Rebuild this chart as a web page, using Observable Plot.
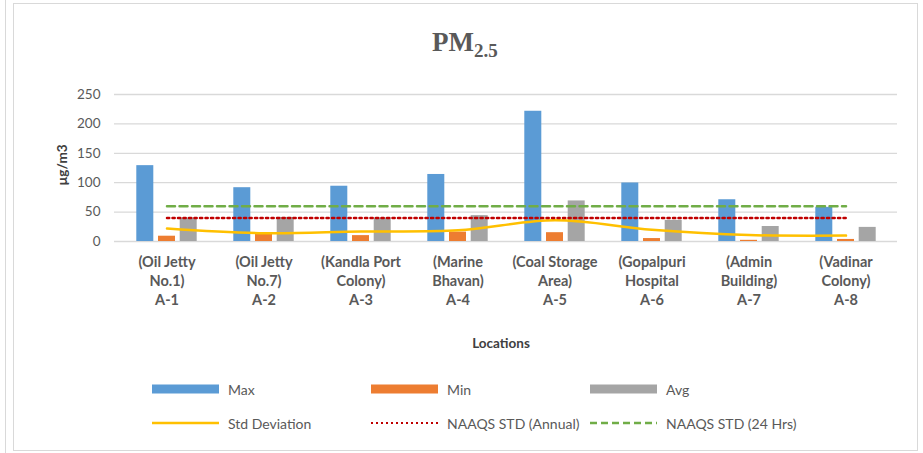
<!DOCTYPE html>
<html>
<head>
<meta charset="utf-8">
<script src="https://cdn.jsdelivr.net/npm/d3@7"></script>
<script src="https://cdn.jsdelivr.net/npm/@observablehq/plot@0.6"></script>
<style>
  html, body { margin: 0; padding: 0; background: #fff; }
  #wrap { position: relative; width: 923px; height: 453px; overflow: hidden; font-family: Lato, "Open Sans", sans-serif; color: #595959; }
  #docline { position: absolute; left: 5px; top: 0; width: 0; height: 453px; border-left: 1.5px solid #d9d9d9; }
  #frame { position: absolute; left: 13px; top: 3px; width: 905px; height: 448px; border: 1.5px solid #d9d9d9; box-sizing: border-box; }
  #title { position: absolute; left: 432px; top: 27px; font-family: "Liberation Serif", "Times New Roman", serif; font-weight: bold; font-size: 27px; color: #595959; white-space: nowrap; }
  #title sub { font-size: 19px; vertical-align: -6px; }
  #chart { position: absolute; left: 0; top: 70px; }
  .axtitle { position: absolute; font-weight: bold; font-size: 13.5px; color: #404040; }
  #ylab { left: 62px; top: 165px; transform: translate(-50%, -50%) rotate(-90deg); white-space: nowrap; }
  #xlab { left: 501px; top: 343px; transform: translate(-50%, -50%); }
  .leg { position: absolute; display: flex; align-items: center; font-size: 14px; color: #595959; white-space: nowrap; }
  .leg svg { margin-right: 9px; }
</style>
</head>
<body>
<div id="wrap">
  <div id="docline"></div>
  <div id="frame"></div>
  <div id="title">PM<sub>2.5</sub></div>
  <div id="chart"></div>
  <div class="axtitle" id="ylab">µg/m3</div>
  <div class="axtitle" id="xlab">Locations</div>
  <div id="legend"></div>
</div>
<script>
// ---- data ----
const locations = ["A-1", "A-2", "A-3", "A-4", "A-5", "A-6", "A-7", "A-8"];
const locationNames = ["(Oil Jetty\nNo.1)", "(Oil Jetty\nNo.7)", "(Kandla Port\nColony)", "(Marine\nBhavan)", "(Coal Storage\nArea)", "(Gopalpuri\nHospital", "(Admin\nBuilding)", "(Vadinar\nColony)"];
const maxValues = [129, 91.5, 94, 114, 221.5, 99.5, 71, 58];
const minValues = [9, 13, 10, 16, 15, 5, 2, 3.5];
const avgValues = [40, 41, 40, 44, 69, 36, 25.5, 24];
const stdValues = [22, 14, 17, 19, 36, 20, 11, 10];
const naaqsAnnual = [40, 40, 40, 40, 40, 40, 40, 40];
const naaqs24h = [60, 60, 60, 60, 60, 60, 60, 60];
const yTicks = [0, 50, 100, 150, 200, 250];

const colors = {Max: "#5B9BD5", Min: "#ED7D31", Avg: "#A5A5A5", Std: "#FFC000", Annual: "#C00000", Day: "#70AD47"};

const rows = locations.map((loc, i) => ({
  loc, name: locationNames[i], max: maxValues[i], min: minValues[i], avg: avgValues[i],
  std: stdValues[i], annual: naaqsAnnual[i], day: naaqs24h[i]
}));
const nameOf = Object.fromEntries(rows.map(r => [r.loc, r.name + "\n" + r.loc]));

const barStep = 21.7;

const plot = Plot.plot({
  width: 923,
  height: 260,
  marginTop: 24,
  marginBottom: 89,
  marginLeft: 114,
  marginRight: 26,
  style: {fontFamily: "Lato, 'Open Sans', sans-serif", fontSize: "13.5px", color: "#595959", background: "transparent"},
  x: {domain: locations, paddingInner: 0.827, paddingOuter: 0.4135, label: null},
  y: {domain: [0, 250], ticks: yTicks, label: null},
  marks: [
    Plot.gridY(yTicks, {stroke: "#d9d9d9", strokeOpacity: 1, strokeWidth: 1.3}),
    Plot.axisY({ticks: yTicks, tickSize: 0, tickPadding: 14, label: null}),
    Plot.axisX({tickSize: 0, tickPadding: 12, label: null, fontWeight: "bold", lineHeight: 1.32, fontSize: 14.5, tickFormat: d => nameOf[d]}),
    Plot.barY(rows, {x: "loc", y: "max", fill: colors.Max, dx: -barStep}),
    Plot.barY(rows, {x: "loc", y: "min", fill: colors.Min}),
    Plot.barY(rows, {x: "loc", y: "avg", fill: colors.Avg, dx: barStep}),
    Plot.lineY(rows, {x: "loc", y: "std", stroke: colors.Std, strokeWidth: 2.5, curve: "catmull-rom"}),
    Plot.lineY(rows, {x: "loc", y: "annual", stroke: colors.Annual, strokeWidth: 2.5, strokeDasharray: "2.2,3.3"}),
    Plot.lineY(rows, {x: "loc", y: "day", stroke: colors.Day, strokeWidth: 2.5, strokeDasharray: "8,4.5"})
  ]
});
document.getElementById("chart").appendChild(plot);

// ---- legend ----
const legendItems = [
  {label: "Max", type: "bar", color: colors.Max, x: 152, y: 389},
  {label: "Min", type: "bar", color: colors.Min, x: 371, y: 389},
  {label: "Avg", type: "bar", color: colors.Avg, x: 590, y: 389},
  {label: "Std Deviation", type: "line", color: colors.Std, x: 152, y: 423},
  {label: "NAAQS STD (Annual)", type: "dot", color: colors.Annual, x: 371, y: 423},
  {label: "NAAQS STD (24 Hrs)", type: "dash", color: colors.Day, x: 590, y: 423}
];
const legend = document.getElementById("legend");
for (const it of legendItems) {
  const div = document.createElement("div");
  div.className = "leg";
  div.style.left = it.x + "px";
  div.style.top = (it.y - 10) + "px";
  div.style.height = "20px";
  let sw;
  if (it.type === "bar") sw = `<rect x="0" y="5.5" width="67" height="9" fill="${it.color}"/>`;
  else if (it.type === "line") sw = `<line x1="0" x2="67" y1="10" y2="10" stroke="${it.color}" stroke-width="2.5"/>`;
  else if (it.type === "dot") sw = `<line x1="0" x2="67" y1="10" y2="10" stroke="${it.color}" stroke-width="2.2" stroke-dasharray="2,3"/>`;
  else sw = `<line x1="0" x2="67" y1="10" y2="10" stroke="${it.color}" stroke-width="2.5" stroke-dasharray="7,4"/>`;
  div.innerHTML = `<svg width="67" height="20">${sw}</svg><span>${it.label}</span>`;
  legend.appendChild(div);
}
</script>
</body>
</html>
